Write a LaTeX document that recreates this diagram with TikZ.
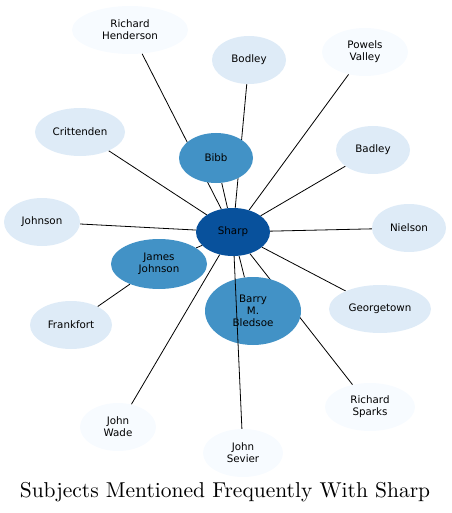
\documentclass[tikz,border=0pt]{standalone}
\usepackage{fontspec}
\newfontfamily\nodefont{DejaVu Sans}
\newfontfamily\titlefont[Extension=.otf]{lmroman10-regular}
\usetikzlibrary{shapes.geometric}
\definecolor{vlight}{HTML}{F7FBFF}
\definecolor{light}{HTML}{DEEBF7}
\definecolor{mid}{HTML}{4292C6}
\definecolor{dark}{HTML}{08519C}
\pgfdeclarelayer{background}
\pgfsetlayers{background,main}
\tikzset{
  ent/.style={ellipse, inner sep=0pt, align=center, draw=none,
    font=\nodefont\fontsize{10.3}{12}\selectfont},
  ed/.style={draw=black, line width=0.8pt},
}
\begin{document}
\begin{tikzpicture}[x=1pt,y=-1pt]
\useasboundingbox (0,0) rectangle (451,513);
\node[ent, fill=vlight, minimum width=116pt, minimum height=48pt] (hend) at (130,30) {Richard\\Henderson};
\node[ent, fill=light, minimum width=74pt, minimum height=48pt] (bodley) at (249,60) {Bodley};
\node[ent, fill=vlight, minimum width=86pt, minimum height=48pt] (powels) at (365,52) {Powels\\Valley};
\node[ent, fill=light, minimum width=90pt, minimum height=48pt] (critt) at (80,132) {Crittenden};
\node[ent, fill=mid, minimum width=74pt, minimum height=50pt] (bibb) at (216,158) {Bibb};
\node[ent, fill=light, minimum width=74pt, minimum height=48pt] (badley) at (373,150) {Badley};
\node[ent, fill=light, minimum width=76pt, minimum height=48pt] (johnson) at (42,222) {Johnson};
\node[ent, fill=light, minimum width=74pt, minimum height=48pt] (nielson) at (409,228) {Nielson};
\node[ent, fill=mid, minimum width=96pt, minimum height=50pt] (jjohnson) at (159,264) {James\\Johnson};
\node[ent, fill=mid, minimum width=96pt, minimum height=68pt] (barry) at (253,311) {Barry\\M.\\Bledsoe};
\node[ent, fill=light, minimum width=102pt, minimum height=48pt] (george) at (380,309) {Georgetown};
\node[ent, fill=light, minimum width=82pt, minimum height=48pt] (frank) at (71,325) {Frankfort};
\node[ent, fill=vlight, minimum width=76pt, minimum height=48pt] (wade) at (118,427) {John\\Wade};
\node[ent, fill=vlight, minimum width=80pt, minimum height=48pt] (sevier) at (243,453) {John\\Sevier};
\node[ent, fill=vlight, minimum width=90pt, minimum height=48pt] (sparks) at (370,407) {Richard\\Sparks};
\node[ent, fill=dark, minimum width=74pt, minimum height=48pt] (sharp) at (233,232) {Sharp};
\begin{pgfonlayer}{background}
\foreach \t in {hend,bodley,powels,critt,bibb,badley,johnson,nielson,jjohnson,barry,george,wade,sparks}
  \draw[ed] (sharp) -- (\t);
\draw[ed] (jjohnson) -- (frank);
\end{pgfonlayer}
\draw[ed] (sharp) -- (sevier);
\node[font=\titlefont\fontsize{21.5}{25}\selectfont] (title) at (225,492) {Subjects Mentioned Frequently With Sharp};
\end{tikzpicture}
\end{document}
